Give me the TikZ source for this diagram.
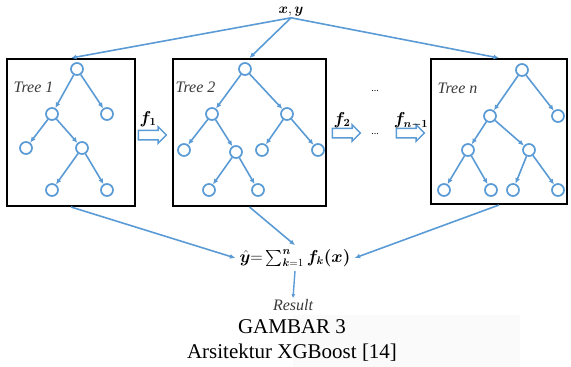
\documentclass[tikz,border=0pt]{standalone}
\usepackage{amsmath,amssymb,bm}
\usepackage{fontspec}
\setmainfont{Liberation Serif}
\usetikzlibrary{arrows.meta, positioning, shapes.arrows}
\definecolor{mblue}{HTML}{5B9BD5}
\definecolor{mtext}{HTML}{3A3A3A}
\definecolor{mshade}{HTML}{FAFAFA}
\tikzset{
  tnode/.style={circle, draw=mblue, fill=white, line width=1.7pt,
                minimum size=12pt, inner sep=0pt},
  tbox/.style={draw=black, line width=2pt, inner sep=0pt},
  tarr/.style={-{Latex[length=5.5pt,width=5pt]}, mblue, line width=1.6pt},
  farr/.style={single arrow, draw=mblue, fill=white, line width=1.5pt,
               minimum height=28pt, inner xsep=0pt, inner ysep=4pt,
               single arrow head extend=3.5pt},
  tlabel/.style={anchor=west, text=mtext, font=\fontsize{16}{18}\selectfont\itshape},
  flabel/.style={font=\fontsize{16}{18}\selectfont\boldmath, inner sep=0pt},
}

\begin{document}
\begin{tikzpicture}[x=1pt, y=-1pt,
    captxt/.style={font=\fontsize{21}{24}\selectfont, inner sep=0pt}]
  \useasboundingbox (0,0) rectangle (571,367);
  \fill[mshade] (293,315) rectangle (520,367);
  % input and tree boxes
  \node[font=\fontsize{15}{16}\selectfont, inner sep=1pt] (xy) at (291,12) {$\boldsymbol{x},\boldsymbol{y}$};
  \node[tbox, minimum width=128pt, minimum height=147pt] (b1) at (71,132.5) {};
  \node[tbox, minimum width=153pt, minimum height=147pt] (b2) at (249.5,132.5) {};
  \node[tbox, minimum width=136pt, minimum height=145pt] (bn) at (499,131.5) {};
  \node[tlabel] (l1) at (10,87) {Tree 1};
  \node[tlabel] (l2) at (172,87) {Tree 2};
  \node[tlabel] (ln) at (434,88) {Tree n};
  \draw[tarr] (xy.south) -- (b1.north);
  \draw[tarr] (xy.south) -- (b2.north);
  \draw[tarr] (xy.south) -- (bn.north);

  % tree 1
  \node[tnode] (r1) at (77,69) {};
  \node[tnode] (a1) at (52,114) {};
  \node[tnode] (c1) at (107,114) {};
  \node[tnode] (d1) at (26,148) {};
  \node[tnode] (e1) at (82,148) {};
  \node[tnode] (g1) at (52,190) {};
  \node[tnode] (h1) at (107,190) {};
  \foreach \p/\c in {r1/a1, r1/c1, a1/d1, a1/e1, e1/g1, e1/h1}
    \draw[tarr] (\p) -- (\c);

  % tree 2
  \node[tnode] (r2) at (245,69) {};
  \node[tnode] (a2) at (212,114) {};
  \node[tnode] (c2) at (287,114) {};
  \node[tnode] (d2) at (184,150) {};
  \node[tnode] (e2) at (236,152) {};
  \node[tnode] (p2) at (262,150) {};
  \node[tnode] (q2) at (318,150) {};
  \node[tnode] (g2) at (209,190) {};
  \node[tnode] (h2) at (258,190) {};
  \foreach \p/\c in {r2/a2, r2/c2, a2/d2, a2/e2, c2/p2, c2/q2, e2/g2, e2/h2}
    \draw[tarr] (\p) -- (\c);

  % tree n
  \node[tnode] (rn) at (522,70) {};
  \node[tnode] (an) at (490,116) {};
  \node[tnode] (cn) at (558,116) {};
  \node[tnode] (dn) at (468,150) {};
  \node[tnode] (en) at (529,150) {};
  \node[tnode] (gn) at (444,190) {};
  \node[tnode] (hn) at (491,190) {};
  \node[tnode] (pn) at (513,190) {};
  \node[tnode] (qn) at (558,190) {};
  \foreach \p/\c in {rn/an, rn/cn, an/dn, an/en, dn/gn, dn/hn, en/pn, en/qn}
    \draw[tarr] (\p) -- (\c);

  % boosting steps
  \node[farr] (s1) at (150,135) {};
  \node[farr] (s2) at (344,133) {};
  \node[farr] (sn) at (408,133) {};
  \node[flabel] (f1) at (148,119) {$f_1$};
  \node[flabel] (f2) at (342,120) {$f_2$};
  \node[flabel] (fn) at (411,121) {$f_{n-1}$};
  \node[font=\fontsize{10}{12}\selectfont, inner sep=0pt] (o1) at (375,91) {...};
  \node[font=\fontsize{10}{12}\selectfont, inner sep=0pt] (o2) at (375,134) {...};

  % sum and result
  \node[font=\fontsize{16}{18}\selectfont, inner sep=4pt] (sum) at (295,258)
    {$\bm{\hat{y}}{=}\mathop{\textstyle\sum}\nolimits_{\bm{k}=1}^{\bm{n}} \bm{f_k(x)}$};
  \draw[tarr] (b1.south) -- (sum.west);
  \draw[tarr] (b2.south) -- (sum.north);
  \draw[tarr] (bn.south) -- (sum.east);
  \node[text=mtext, font=\fontsize{16}{18}\selectfont\itshape, inner sep=1pt] (res) at (293,305) {Result};
  \draw[-{Latex[length=4pt,width=4pt]}, mblue, line width=1.4pt] (sum.south) -- (res.north);

  % caption
  \node[captxt] (g3) at (292,327) {GAMBAR 3};
  \node[captxt] (ar) at (292,353) {Arsitektur XGBoost [14]};
\end{tikzpicture}
\end{document}
